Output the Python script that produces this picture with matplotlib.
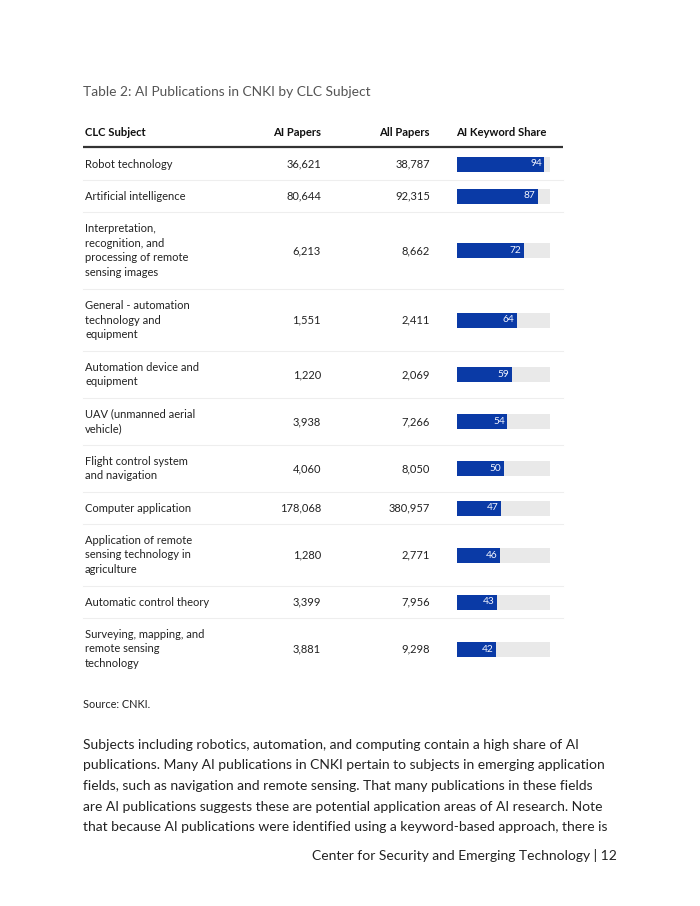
"""Table 2: AI publications in CNKI by CLC subject, drawn as a page."""

import matplotlib

matplotlib.use("Agg")
import matplotlib.pyplot as plt

plt.rcParams["font.family"] = ["Lato", "DejaVu Sans"]

subjects = [
    "Robot technology",
    "Artificial intelligence",
    "Interpretation,\nrecognition, and\nprocessing of remote\nsensing images",
    "General - automation\ntechnology and\nequipment",
    "Automation device and\nequipment",
    "UAV (unmanned aerial\nvehicle)",
    "Flight control system\nand navigation",
    "Computer application",
    "Application of remote\nsensing technology in\nagriculture",
    "Automatic control theory",
    "Surveying, mapping, and\nremote sensing\ntechnology",
]
ai_papers = [36621, 80644, 6213, 1551, 1220, 3938, 4060, 178068, 1280, 3399, 3881]
all_papers = [38787, 92315, 8662, 2411, 2069, 7266, 8050, 380957, 2771, 7956, 9298]
keyword_share = [94, 87, 72, 64, 59, 54, 50, 47, 46, 43, 42]

title = "Table 2: AI Publications in CNKI by CLC Subject"
headers = ["CLC Subject", "AI Papers", "All Papers", "AI Keyword Share"]
source = "Source: CNKI."
body = (
    "Subjects including robotics, automation, and computing contain a high share of AI\n"
    "publications. Many AI publications in CNKI pertain to subjects in emerging application\n"
    "fields, such as navigation and remote sensing. That many publications in these fields\n"
    "are AI publications suggests these are potential application areas of AI research. Note\n"
    "that because AI publications were identified using a keyword-based approach, there is"
)
footer = "Center for Security and Emerging Technology | 12"

W, H = 700, 906
BLUE = "#0a3aa6"
TEXT = "#222222"

fig = plt.figure(figsize=(W / 100, H / 100), dpi=100)
fig.patch.set_facecolor("white")

# page axes in pixel units
ax = fig.add_axes([0, 0, 1, 1])
ax.set_xlim(0, W)
ax.set_ylim(H, 0)
ax.axis("off")

# bar column axes: x in share units, y in page pixels
bar_left, bar_right = 457, 550
bx = fig.add_axes([bar_left / W, 0, (bar_right - bar_left) / W, 1])
bx.set_xlim(0, 100)
bx.set_ylim(H, 0)
bx.axis("off")

ax.text(83, 92, title, fontsize=9.9, color="#555555", va="center", ha="left")

head_y = 133
hdr = dict(fontsize=8.1, fontweight="bold", color="#111111", va="center")
ax.text(85, head_y, headers[0], ha="left", **hdr)
ax.text(321, head_y, headers[1], ha="right", **hdr)
ax.text(430, head_y, headers[2], ha="right", **hdr)
ax.text(456, head_y, headers[3], ha="left", **hdr)
ax.plot([83, 563], [147, 147], color="#333333", lw=1.6, solid_capstyle="butt")

top = 148
for i, subj in enumerate(subjects):
    n_lines = subj.count("\n") + 1
    height = 17 + 15 * n_lines
    yc = top + height / 2
    ax.text(85, yc, subj, fontsize=8, color=TEXT, va="center", ha="left", linespacing=1.42)
    ax.text(321, yc, f"{ai_papers[i]:,}", fontsize=8, color=TEXT, va="center", ha="right")
    ax.text(430, yc, f"{all_papers[i]:,}", fontsize=8, color=TEXT, va="center", ha="right")
    bx.barh(yc, 100, height=15, left=0, color="#e9e9e9", edgecolor="none")
    bx.barh(yc, keyword_share[i], height=15, left=0, color=BLUE, edgecolor="none")
    bx.text(keyword_share[i] - 2.5, yc, str(keyword_share[i]), fontsize=7.3, color="#f4f6ff",
            va="center", ha="right")
    top += height
    if i < len(subjects) - 1:
        ax.plot([83, 563], [top, top], color="#eeeeee", lw=0.8)

ax.text(83, 704, source, fontsize=7.8, color=TEXT, va="center", ha="left")
ax.text(83, 786, body, fontsize=10, color=TEXT, va="center", ha="left", linespacing=1.86)
ax.text(617, 856, footer, fontsize=10, color=TEXT, va="center", ha="right")

fig.savefig("out.png", dpi=100, facecolor="white")
